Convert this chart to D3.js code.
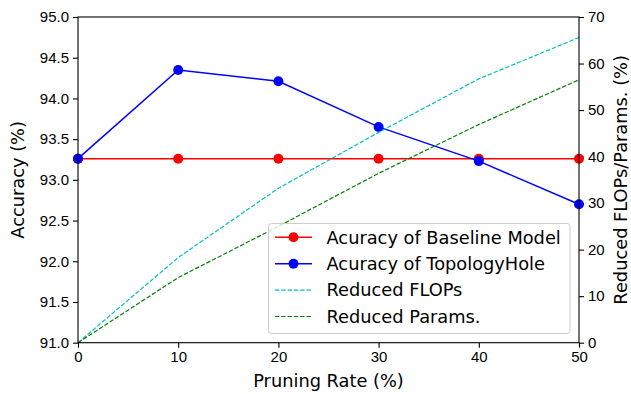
<!DOCTYPE html>
<html>
<head>
<meta charset="utf-8">
<script src="https://cdn.jsdelivr.net/npm/d3@7"></script>
<style>
  body { margin: 0; background: #fff; }
  svg { font-family: "DejaVu Sans", sans-serif; }
</style>
</head>
<body>
<div id="chart"></div>
<script>
//Chart data
const rates = [0, 10, 20, 30, 40, 50];
const baselineAcc = [93.26, 93.26, 93.26, 93.26, 93.26, 93.26];
const holeAcc = [93.26, 94.35, 94.21, 93.65, 93.23, 92.70];
const reducedFlops = [0, 18.3, 33.2, 45.2, 56.7, 65.6];
const reducedParams = [0, 14.0, 25.0, 36.4, 46.9, 56.5];
const xTicks = [0, 10, 20, 30, 40, 50];
const leftTicks = [91.0, 91.5, 92.0, 92.5, 93.0, 93.5, 94.0, 94.5, 95.0];
const rightTicks = [0, 10, 20, 30, 40, 50, 60, 70];
const legendNames = ['Acuracy of Baseline Model', 'Acuracy of TopologyHole', 'Reduced FLOPs', 'Reduced Params.'];

const WIDTH = 631;
const HEIGHT = 394;
const LEFT = 78, RIGHT = 579, TOP = 17, BOTTOM = 342.7;

let svg = d3.select('#chart')
.append('svg')
.attr('width', WIDTH)
.attr('height', HEIGHT);

//Scales
const x = d3.scaleLinear().domain([0, 50]).range([LEFT, RIGHT]);
const yLeft = d3.scaleLinear().domain([91, 95]).range([BOTTOM, TOP]);
const yRight = d3.scaleLinear().domain([0, 70]).range([BOTTOM, TOP]);

//Axes
function styleAxis(g) {
    g.select('.domain').remove();
    g.selectAll('.tick line').attr('stroke', '#000').attr('stroke-width', 1.1);
    g.selectAll('.tick text').attr('fill', '#000').style('font-size', '15px');
}

svg.append('g')
.attr('transform', `translate(0,${BOTTOM})`)
.call(d3.axisBottom(x).tickValues(xTicks).tickSize(5).tickPadding(4).tickFormat(d3.format('d')))
.call(styleAxis);

svg.append('g')
.attr('transform', `translate(${LEFT},0)`)
.call(d3.axisLeft(yLeft).tickValues(leftTicks).tickSize(5).tickPadding(4).tickFormat(d3.format('.1f')))
.call(styleAxis);

svg.append('g')
.attr('transform', `translate(${RIGHT},0)`)
.call(d3.axisRight(yRight).tickValues(rightTicks).tickSize(5).tickPadding(4).tickFormat(d3.format('d')))
.call(styleAxis);

//Data lines
const accLine = d3.line().x((d, i) => x(rates[i])).y(d => yLeft(d));
const redLine = d3.line().x((d, i) => x(rates[i])).y(d => yRight(d));

function drawSeries(values, line, yScale, colour, dashed, markers) {
    svg.append('path')
    .datum(values)
    .attr('d', line)
    .attr('fill', 'none')
    .attr('stroke', colour)
    .attr('stroke-width', dashed ? 1.2 : 1.5)
    .attr('stroke-dasharray', dashed ? '4.4,1.9' : null);

    if (markers) {
        svg.append('g')
        .selectAll()
        .data(values)
        .enter()
        .append('circle')
        .attr('cx', (d, i) => x(rates[i]))
        .attr('cy', d => yScale(d))
        .attr('r', 5)
        .style('fill', colour);
    }
}

drawSeries(baselineAcc, accLine, yLeft, '#ff0000', false, true);
drawSeries(holeAcc, accLine, yLeft, '#0000ff', false, true);
drawSeries(reducedFlops, redLine, yRight, '#00bfbf', true, false);
drawSeries(reducedParams, redLine, yRight, '#008000', true, false);

//Frame
svg.append('rect')
.attr('x', LEFT)
.attr('y', TOP)
.attr('width', RIGHT - LEFT)
.attr('height', BOTTOM - TOP)
.attr('fill', 'none')
.attr('stroke', '#000')
.attr('stroke-width', 1.1);

//Axis labels
svg.append('text')
.attr('x', (LEFT + RIGHT) / 2)
.attr('y', 387)
.attr('text-anchor', 'middle')
.style('font-size', '17.8px')
.text('Pruning Rate (%)');

svg.append('text')
.attr('transform', `translate(24,${(TOP + BOTTOM) / 2}) rotate(-90)`)
.attr('text-anchor', 'middle')
.style('font-size', '17.8px')
.text('Accuracy (%)');

svg.append('text')
.attr('transform', `translate(627,${(TOP + BOTTOM) / 2}) rotate(-90)`)
.attr('text-anchor', 'middle')
.style('font-size', '17.8px')
.text('Reduced FLOPs/Params. (%)');

//Legend
const legendColours = ['#ff0000', '#0000ff', '#00bfbf', '#008000'];
let legend = svg.append('g');

legend.append('rect')
.attr('x', 268.5)
.attr('y', 223.5)
.attr('width', 301.5)
.attr('height', 110)
.attr('rx', 3)
.attr('fill', '#fff')
.attr('fill-opacity', 0.8)
.attr('stroke', '#ccc');

let rows = legend.selectAll()
.data(legendNames)
.enter()
.append('g')
.attr('transform', (d, i) => `translate(0,${237.3 + i * 26.4})`);

rows.append('line')
.attr('x1', 275)
.attr('x2', 312)
.attr('stroke', (d, i) => legendColours[i])
.attr('stroke-width', (d, i) => i < 2 ? 1.5 : 1.2)
.attr('stroke-dasharray', (d, i) => i < 2 ? null : '4.4,1.9');

rows.filter((d, i) => i < 2)
.append('circle')
.attr('cx', 293.5)
.attr('r', 5)
.style('fill', (d, i) => legendColours[i]);

rows.append('text')
.attr('x', 326.5)
.attr('dy', '0.35em')
.style('font-size', '17.8px')
.text(d => d);
</script>
</body>
</html>
